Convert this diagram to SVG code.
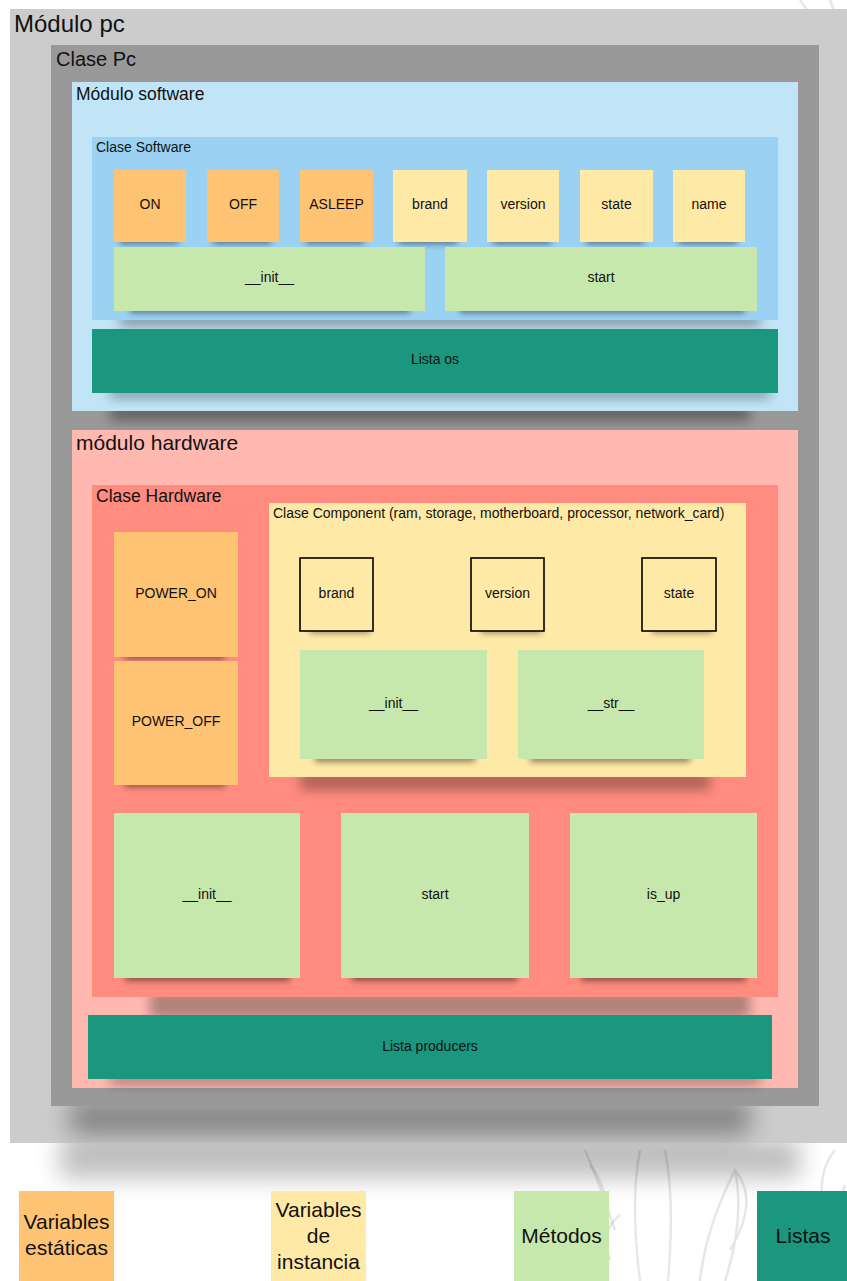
<svg xmlns="http://www.w3.org/2000/svg" width="847" height="1281" viewBox="0 0 847 1281">
  <defs>
    <filter id="blur3" x="-20%" y="-100%" width="140%" height="300%"><feGaussianBlur stdDeviation="3"/></filter>
    <filter id="blur6" x="-20%" y="-100%" width="140%" height="300%"><feGaussianBlur stdDeviation="6"/></filter>
    <filter id="blur12" x="-20%" y="-100%" width="140%" height="300%"><feGaussianBlur stdDeviation="12"/></filter>
    <style>
      text { font-family: "Liberation Sans", Arial, sans-serif; fill: #111; }
      .lbl { font-size: 14px; text-anchor: middle; }
      .leg { font-size: 21px; text-anchor: middle; }
      .static { fill: #ffc374; }
      .inst { fill: #ffe9a6; }
      .meth { fill: #c7e8ac; }
      .list { fill: #1b967f; }
      .attr { fill: #ffe9a6; stroke: #000; stroke-width: 1.6; }
      .sh { fill: #000; opacity: 0.45; filter: url(#blur3); }
      .shbig { fill: #000; opacity: 0.35; filter: url(#blur6); }
      .wm { fill: none; stroke: #c4c4c4; stroke-width: 2.5; opacity: 0.4; }
    </style>
  </defs>

  <rect x="0" y="0" width="847" height="1281" fill="#ffffff"/>

  <!-- faint botanical sketch in the background -->
  <g id="watermark">
    <path class="wm" d="M800 0 Q815 20 825 40 M830 0 Q835 15 845 25"/>
    <path class="wm" d="M585 1150 Q600 1185 615 1230 M640 1150 Q630 1200 640 1281 M665 1150 Q675 1200 668 1281"/>
    <path class="wm" d="M700 1281 Q705 1230 735 1170 Q760 1200 730 1250 M735 1170 Q745 1220 725 1281"/>
    <path class="wm" d="M590 1165 Q610 1190 605 1220 M620 1215 Q600 1230 610 1260"/>
    <path class="wm" d="M835 1150 Q815 1175 825 1215 M845 1185 Q830 1230 840 1281"/>
  </g>

  <!-- shadow beneath the outer module -->
  <rect x="60" y="1138" width="740" height="40" fill="#000" opacity="0.25" filter="url(#blur12)"/>

  <g id="modulo-pc">
    <rect x="10" y="9" width="837" height="1134" fill="#cccccc"/>
    <text x="14" y="32" font-size="24">Módulo pc</text>
  </g>

  <!-- shadow beneath Clase Pc -->
  <rect x="70" y="1100" width="680" height="35" fill="#000" opacity="0.35" filter="url(#blur12)"/>

  <g id="clase-pc">
    <rect x="51" y="45" width="768" height="1061" fill="#999999"/>
    <text x="56" y="66" font-size="20">Clase Pc</text>
  </g>

  <!-- software module -->
  <rect class="shbig" x="110" y="405" width="640" height="16"/>
  <g id="modulo-software">
    <rect x="72" y="82" width="726" height="329" fill="#c1e4f7"/>
    <text x="76" y="100" font-size="17.5">Módulo software</text>
  </g>

  <rect class="shbig" x="120" y="314" width="640" height="12"/>
  <g id="clase-software">
    <rect x="92" y="137" width="686" height="183" fill="#9bd1f2"/>
    <text x="96" y="152" font-size="14">Clase Software</text>
  </g>

  <g id="sw-notes-shadows">
    <rect class="sh" x="120" y="236" width="58" height="8"/>
    <rect class="sh" x="213" y="236" width="58" height="8"/>
    <rect class="sh" x="306" y="236" width="58" height="8"/>
    <rect class="sh" x="399" y="236" width="58" height="8"/>
    <rect class="sh" x="493" y="236" width="58" height="8"/>
    <rect class="sh" x="586" y="236" width="58" height="8"/>
    <rect class="sh" x="679" y="236" width="58" height="8"/>
    <rect class="sh" x="130" y="305" width="280" height="8"/>
    <rect class="sh" x="460" y="305" width="285" height="8"/>
  </g>

  <g id="sw-on"><rect class="static" x="114" y="170" width="72" height="72"/><text class="lbl" x="150" y="209">ON</text></g>
  <g id="sw-off"><rect class="static" x="207" y="170" width="72" height="72"/><text class="lbl" x="243" y="209">OFF</text></g>
  <g id="sw-asleep"><rect class="static" x="300" y="170" width="73" height="72"/><text class="lbl" x="336.5" y="209">ASLEEP</text></g>
  <g id="sw-brand"><rect class="inst" x="393" y="170" width="74" height="72"/><text class="lbl" x="430" y="209">brand</text></g>
  <g id="sw-version"><rect class="inst" x="487" y="170" width="72" height="72"/><text class="lbl" x="523" y="209">version</text></g>
  <g id="sw-state"><rect class="inst" x="580" y="170" width="73" height="72"/><text class="lbl" x="616.5" y="209">state</text></g>
  <g id="sw-name"><rect class="inst" x="673" y="170" width="72" height="72"/><text class="lbl" x="709" y="209">name</text></g>
  <g id="sw-init"><rect class="meth" x="114" y="247" width="311" height="64"/><text class="lbl" x="269.5" y="282">__init__</text></g>
  <g id="sw-start"><rect class="meth" x="445" y="247" width="312" height="64"/><text class="lbl" x="601" y="282">start</text></g>

  <rect class="shbig" x="110" y="388" width="660" height="10"/>
  <g id="lista-os"><rect class="list" x="92" y="329" width="686" height="64"/><text class="lbl" x="435" y="364">Lista os</text></g>

  <!-- hardware module -->
  <g id="modulo-hardware">
    <rect x="72" y="430" width="726" height="658" fill="#ffb9b1"/>
    <text x="76" y="450" font-size="21">módulo hardware</text>
  </g>

  <rect x="150" y="990" width="600" height="28" fill="#000" opacity="0.3" filter="url(#blur6)"/>
  <g id="clase-hardware">
    <rect x="92" y="485" width="686" height="512" fill="#ff8c7f"/>
    <text x="96" y="502" font-size="17.5">Clase Hardware</text>
  </g>

  <g id="hw-static-shadows">
    <rect class="sh" x="125" y="651" width="100" height="8"/>
    <rect class="sh" x="125" y="779" width="100" height="8"/>
  </g>
  <g id="hw-power-on"><rect class="static" x="114" y="532" width="124" height="125"/><text class="lbl" x="176" y="598">POWER_ON</text></g>
  <g id="hw-power-off"><rect class="static" x="114" y="661" width="124" height="124"/><text class="lbl" x="176" y="726">POWER_OFF</text></g>

  <rect x="300" y="772" width="410" height="18" fill="#000" opacity="0.3" filter="url(#blur6)"/>
  <g id="clase-component">
    <rect x="269" y="503" width="477" height="274" fill="#ffe9a6"/>
    <text x="273" y="518" font-size="14">Clase Component (ram, storage, motherboard, processor, network_card)</text>
  </g>

  <g id="comp-shadows">
    <rect class="sh" x="310" y="627" width="60" height="6" opacity="0.3"/>
    <rect class="sh" x="481" y="627" width="60" height="6" opacity="0.3"/>
    <rect class="sh" x="652" y="627" width="60" height="6" opacity="0.3"/>
    <rect class="sh" x="315" y="754" width="160" height="8"/>
    <rect class="sh" x="530" y="754" width="160" height="8"/>
  </g>
  <g id="comp-brand"><rect class="attr" x="300" y="558" width="73" height="73"/><text class="lbl" x="336.5" y="598">brand</text></g>
  <g id="comp-version"><rect class="attr" x="471" y="558" width="73" height="73"/><text class="lbl" x="507.5" y="598">version</text></g>
  <g id="comp-state"><rect class="attr" x="642" y="558" width="74" height="73"/><text class="lbl" x="679" y="598">state</text></g>
  <g id="comp-init"><rect class="meth" x="300" y="650" width="187" height="109"/><text class="lbl" x="393.5" y="708">__init__</text></g>
  <g id="comp-str"><rect class="meth" x="518" y="650" width="186" height="109"/><text class="lbl" x="611" y="708">__str__</text></g>

  <g id="hw-method-shadows">
    <rect class="sh" x="125" y="972" width="165" height="9"/>
    <rect class="sh" x="352" y="972" width="165" height="9"/>
    <rect class="sh" x="581" y="972" width="165" height="9"/>
  </g>
  <g id="hw-init"><rect class="meth" x="114" y="813" width="186" height="165"/><text class="lbl" x="207" y="899">__init__</text></g>
  <g id="hw-start"><rect class="meth" x="341" y="813" width="188" height="165"/><text class="lbl" x="435" y="899">start</text></g>
  <g id="hw-is-up"><rect class="meth" x="570" y="813" width="187" height="165"/><text class="lbl" x="663.5" y="899">is_up</text></g>

  <rect class="shbig" x="110" y="1074" width="650" height="10" opacity="0.2"/>
  <g id="lista-producers"><rect class="list" x="88" y="1015" width="684" height="64"/><text class="lbl" x="430" y="1051">Lista producers</text></g>

  <!-- legend -->
  <g id="legend-static"><rect class="static" x="19" y="1191" width="95" height="90"/>
    <text class="leg" x="66.5" y="1229">Variables</text><text class="leg" x="66.5" y="1255">estáticas</text></g>
  <g id="legend-instance"><rect class="inst" x="271" y="1191" width="95" height="90"/>
    <text class="leg" x="318.5" y="1217">Variables</text><text class="leg" x="318.5" y="1243">de</text><text class="leg" x="318.5" y="1269">instancia</text></g>
  <g id="legend-methods"><rect class="meth" x="514" y="1191" width="95" height="90"/>
    <text class="leg" x="561.5" y="1243">Métodos</text></g>
  <g id="legend-lists"><rect class="list" x="757" y="1191" width="90" height="90"/>
    <text class="leg" x="803" y="1243">Listas</text></g>

  <g id="connectors"/>
</svg>
